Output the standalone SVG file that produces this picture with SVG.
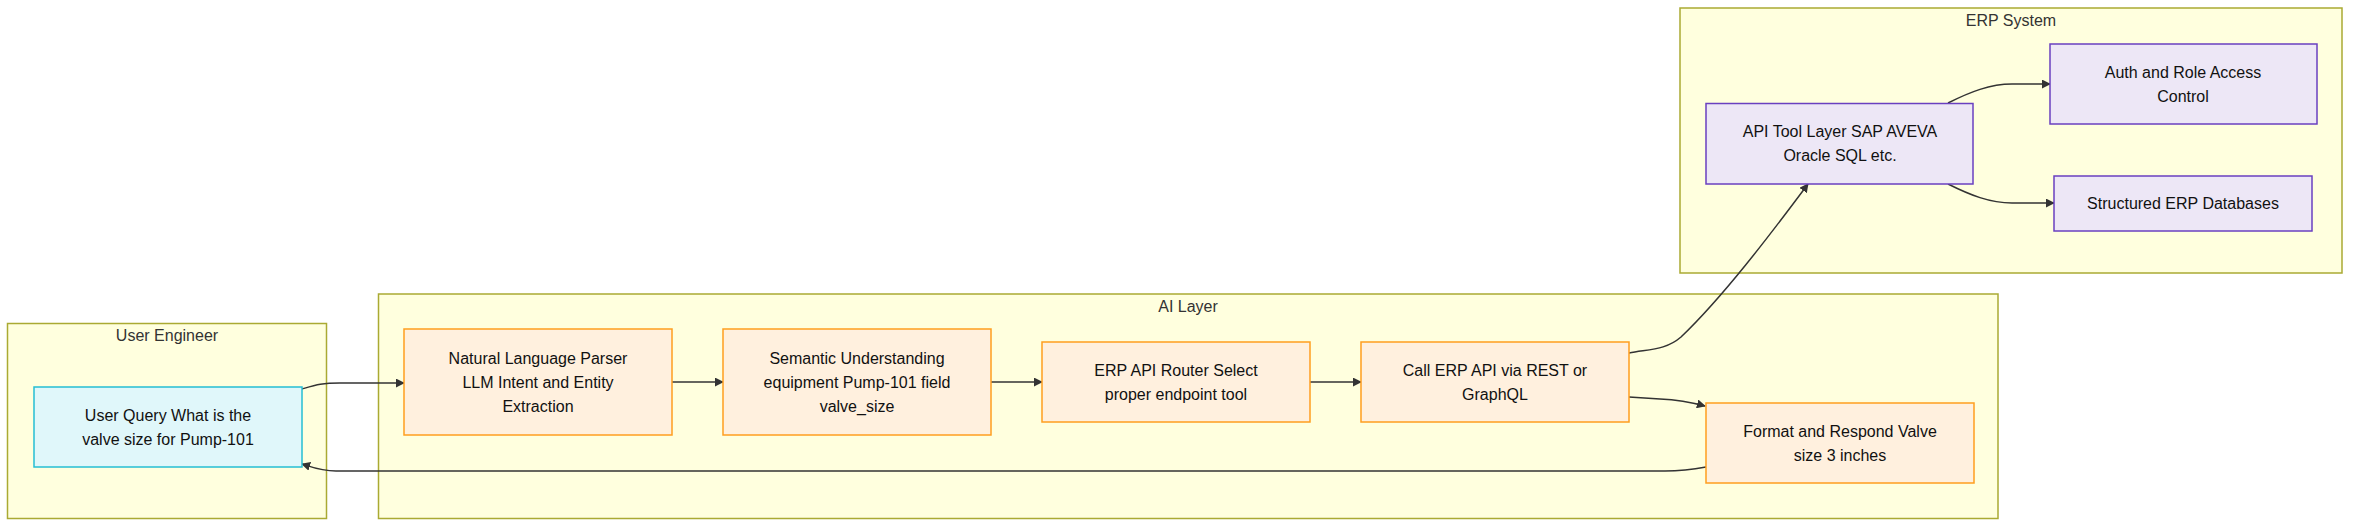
<svg xmlns="http://www.w3.org/2000/svg" width="2368" height="532" viewBox="0 0 2368 532">
<style>
  text { font-family: "Liberation Sans", Arial, sans-serif; font-size: 16px; text-anchor: middle; dominant-baseline: central; }
  .cluster rect { fill: #ffffde; stroke: #aaaa33; stroke-width: 1.5; }
  .cluster text { fill: #333333; }
  .user rect { fill: #e0f7fa; stroke: #26bfd3; stroke-width: 1.5; }
  .ai rect { fill: #fff0de; stroke: #ff9e1f; stroke-width: 1.5; }
  .erp rect { fill: #ede7f6; stroke: #6a40c0; stroke-width: 1.5; }
  .node text { fill: #111111; }
  .edges path { fill: none; stroke: #333333; stroke-width: 1.5; }
</style>
<defs>
  <marker id="arrow" viewBox="0 0 10 10" refX="9" refY="5" markerUnits="userSpaceOnUse" markerWidth="9" markerHeight="9" orient="auto">
    <path d="M0,0 L10,5 L0,10 z" fill="#333333"/>
  </marker>
</defs>
<rect width="2368" height="532" fill="#ffffff"/>

<g id="cluster-user" class="cluster">
  <rect x="7.5" y="323.5" width="319" height="195"/>
  <text x="167" y="335">User Engineer</text>
</g>
<g id="cluster-ai" class="cluster">
  <rect x="378.5" y="294" width="1619.5" height="224.5"/>
  <text x="1188" y="306">AI Layer</text>
</g>
<g id="cluster-erp" class="cluster">
  <rect x="1680" y="8" width="662" height="265"/>
  <text x="2011" y="20">ERP System</text>
</g>

<g class="edges" id="edges">
  <path d="M302,389 C316,385 322,383 340,383 L404,383" marker-end="url(#arrow)"/>
  <path d="M672,382 L723,382" marker-end="url(#arrow)"/>
  <path d="M991,382 L1042,382" marker-end="url(#arrow)"/>
  <path d="M1310,382 L1361,382" marker-end="url(#arrow)"/>
  <path d="M1629,353 C1650,349 1666,350 1681,337 C1722,298 1770,235 1808,184" marker-end="url(#arrow)"/>
  <path d="M1629,397 L1660,399 C1680,400 1690,402 1705,406" marker-end="url(#arrow)"/>
  <path d="M1706,467 C1690,470 1680,471 1665,471 L336,471 C320,471 312,467 302,464" marker-end="url(#arrow)"/>
  <path d="M1948,103 C1970,92 1990,84 2012,84 L2050,84" marker-end="url(#arrow)"/>
  <path d="M1948,184 C1970,195 1990,203 2012,203 L2054,203" marker-end="url(#arrow)"/>
</g>

<g id="node-user-query" class="node user">
  <rect x="34" y="387" width="268" height="80"/>
  <text x="168" y="415">User Query What is the</text>
  <text x="168" y="439">valve size for Pump-101</text>
</g>
<g id="node-nlp" class="node ai">
  <rect x="404" y="329" width="268" height="106"/>
  <text x="538" y="358">Natural Language Parser</text>
  <text x="538" y="382">LLM Intent and Entity</text>
  <text x="538" y="406">Extraction</text>
</g>
<g id="node-semantic" class="node ai">
  <rect x="723" y="329" width="268" height="106"/>
  <text x="857" y="358">Semantic Understanding</text>
  <text x="857" y="382">equipment Pump-101 field</text>
  <text x="857" y="406">valve_size</text>
</g>
<g id="node-router" class="node ai">
  <rect x="1042" y="342" width="268" height="80"/>
  <text x="1176" y="370">ERP API Router Select</text>
  <text x="1176" y="394">proper endpoint tool</text>
</g>
<g id="node-call" class="node ai">
  <rect x="1361" y="342" width="268" height="80"/>
  <text x="1495" y="370">Call ERP API via REST or</text>
  <text x="1495" y="394">GraphQL</text>
</g>
<g id="node-format" class="node ai">
  <rect x="1706" y="403" width="268" height="80"/>
  <text x="1840" y="431">Format and Respond Valve</text>
  <text x="1840" y="455">size 3 inches</text>
</g>
<g id="node-api-tool" class="node erp">
  <rect x="1706" y="103.5" width="267" height="80.5"/>
  <text x="1840" y="131.5">API Tool Layer SAP AVEVA</text>
  <text x="1840" y="155.5">Oracle SQL etc.</text>
</g>
<g id="node-auth" class="node erp">
  <rect x="2050" y="44" width="267" height="80"/>
  <text x="2183" y="72">Auth and Role Access</text>
  <text x="2183" y="96">Control</text>
</g>
<g id="node-db" class="node erp">
  <rect x="2054" y="176" width="258" height="55"/>
  <text x="2183" y="203.5">Structured ERP Databases</text>
</g>
</svg>
